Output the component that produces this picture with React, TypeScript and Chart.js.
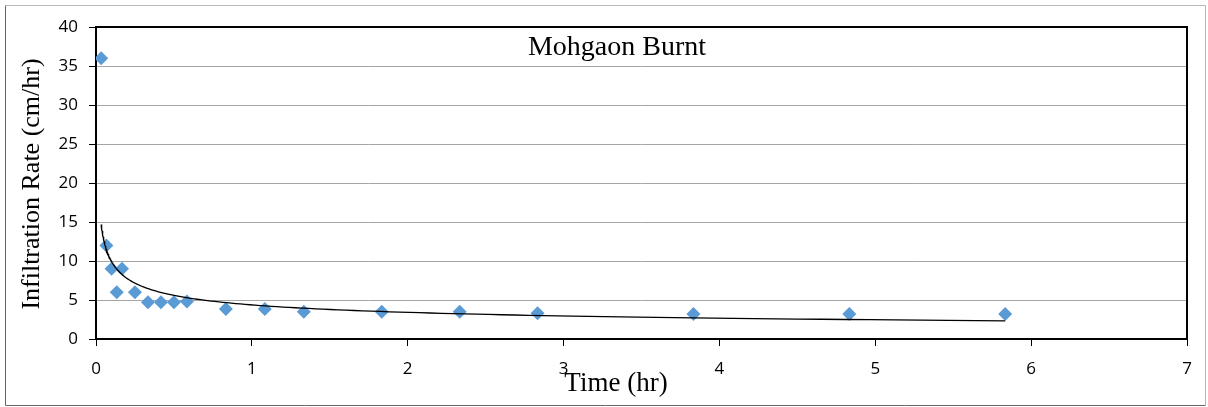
import { useEffect, useRef } from "react";
import { Chart, registerables } from "chart.js";

Chart.register(...registerables);

// Infiltration test readings: elapsed time (hr) and measured rate (cm/hr)
const timeHr = [
  0.0333, 0.0667, 0.1, 0.1333, 0.1667, 0.25, 0.3333, 0.4167, 0.5, 0.5833,
  0.8333, 1.0833, 1.3333, 1.8333, 2.3333, 2.8333, 3.8333, 4.8333, 5.8333,
];
const infiltrationRate = [
  36, 12, 9, 6, 9, 6, 4.7, 4.7, 4.7, 4.8, 3.84, 3.84, 3.5, 3.5, 3.5, 3.3, 3.2,
  3.2, 3.2,
];

const xTickValues = [0, 1, 2, 3, 4, 5, 6, 7];
const yTickValues = [0, 5, 10, 15, 20, 25, 30, 35, 40];

const chartTitle = "Mohgaon Burnt";
const xAxisTitle = "Time (hr)";
const yAxisTitle = "Infiltration Rate (cm/hr)";

const SERIF = '"Liberation Serif", "Times New Roman", serif';
const SANS = '"Open Sans", "Noto Sans", sans-serif';

// Power trend line y = a * x^b, least squares in log space
function powerFit(xs: number[], ys: number[]) {
  const lx = xs.map(Math.log);
  const ly = ys.map(Math.log);
  const n = xs.length;
  const mx = lx.reduce((s, v) => s + v, 0) / n;
  const my = ly.reduce((s, v) => s + v, 0) / n;
  let sxy = 0;
  let sxx = 0;
  for (let i = 0; i < n; i++) {
    sxy += (lx[i] - mx) * (ly[i] - my);
    sxx += (lx[i] - mx) * (lx[i] - mx);
  }
  const b = sxy / sxx;
  const a = Math.exp(my - b * mx);
  return { a, b };
}

function trendPoints(xs: number[], ys: number[]) {
  const { a, b } = powerFit(xs, ys);
  const x0 = Math.min(...xs);
  const x1 = Math.max(...xs);
  const steps = 160;
  const pts: { x: number; y: number }[] = [];
  for (let i = 0; i <= steps; i++) {
    const x = Math.exp(Math.log(x0) + ((Math.log(x1) - Math.log(x0)) * i) / steps);
    pts.push({ x, y: a * Math.pow(x, b) });
  }
  return pts;
}

const framePlugin = {
  id: "frame",
  beforeDatasetsDraw(chart: any) {
    const { ctx, chartArea } = chart;
    ctx.save();
    ctx.strokeStyle = "#000";
    ctx.lineWidth = 2;
    ctx.strokeRect(
      chartArea.left,
      chartArea.top,
      chartArea.right - chartArea.left,
      chartArea.bottom - chartArea.top
    );
    ctx.restore();
  },
  afterDraw(chart: any) {
    const { ctx, width, height } = chart;
    ctx.save();
    // outer chart border
    ctx.lineWidth = 1;
    ctx.strokeStyle = "#b8b8b8";
    ctx.beginPath();
    ctx.moveTo(5.5, 5.5);
    ctx.lineTo(width - 2.5, 5.5);
    ctx.lineTo(width - 2.5, height - 1.5);
    ctx.stroke();
    ctx.strokeStyle = "#666";
    ctx.beginPath();
    ctx.moveTo(5.5, 5.5);
    ctx.lineTo(5.5, height - 1.5);
    ctx.lineTo(width - 2.5, height - 1.5);
    ctx.stroke();

    ctx.fillStyle = "#000";
    ctx.textAlign = "center";
    ctx.textBaseline = "alphabetic";

    ctx.font = `28px ${SERIF}`;
    ctx.fillText(chartTitle, 617, 55);

    ctx.font = `27px ${SERIF}`;
    ctx.fillText(xAxisTitle, 616, 391);

    ctx.translate(32, 184);
    ctx.rotate(-Math.PI / 2);
    ctx.textBaseline = "middle";
    ctx.font = `26px ${SERIF}`;
    ctx.fillText(yAxisTitle, 0, 0);
    ctx.restore();
  },
};

export default function App() {
  const canvasRef = useRef<HTMLCanvasElement | null>(null);

  useEffect(() => {
    if (!canvasRef.current) return;
    const chart = new Chart(canvasRef.current, {
      type: "scatter",
      data: {
        datasets: [
          {
            type: "line",
            label: "Trend",
            data: trendPoints(timeHr, infiltrationRate),
            borderColor: "#000",
            borderWidth: 1.3,
            pointRadius: 0,
            fill: false,
            tension: 0,
            order: 0,
          },
          {
            type: "scatter",
            label: "Infiltration Rate",
            data: timeHr.map((t, i) => ({ x: t, y: infiltrationRate[i] })),
            backgroundColor: "#5b9bd5",
            borderColor: "#5b9bd5",
            borderWidth: 0,
            pointStyle: "rectRot",
            pointRadius: 7,
            order: 1,
          },
        ],
      },
      options: {
        responsive: false,
        animation: false,
        layout: { padding: { left: 0, top: 27, right: 21, bottom: 0 } },
        plugins: {
          legend: { display: false },
          title: { display: false },
          tooltip: { enabled: false },
        },
        scales: {
          x: {
            type: "linear",
            min: 0,
            max: 7,
            afterBuildTicks: (scale: any) => {
              scale.ticks = xTickValues.map((v) => ({ value: v }));
            },
            afterFit: (scale: any) => {
              scale.height = 68;
            },
            ticks: {
              color: "#000",
              font: { family: SANS, size: 17 },
              padding: 13,
              maxRotation: 0,
            },
            grid: {
              drawOnChartArea: false,
              drawTicks: true,
              tickLength: 7,
              tickColor: "#000",
              tickWidth: 1,
            },
            border: { display: false },
          },
          y: {
            type: "linear",
            min: 0,
            max: 40,
            afterBuildTicks: (scale: any) => {
              scale.ticks = yTickValues.map((v) => ({ value: v }));
            },
            afterFit: (scale: any) => {
              scale.width = 96;
            },
            ticks: {
              color: "#000",
              font: { family: SANS, size: 17 },
              padding: 11,
            },
            grid: {
              color: "#a6a6a6",
              lineWidth: 1,
              drawTicks: true,
              tickLength: 7,
              tickColor: "#000",
              tickWidth: 1,
            },
            border: { display: false },
          },
        },
      },
      plugins: [framePlugin],
    });
    return () => chart.destroy();
  }, []);

  return (
    <div style={{ position: "absolute", left: 0, top: 0, width: 1208, height: 407, background: "#fff" }}>
      <canvas ref={canvasRef} width={1208} height={407} />
    </div>
  );
}
